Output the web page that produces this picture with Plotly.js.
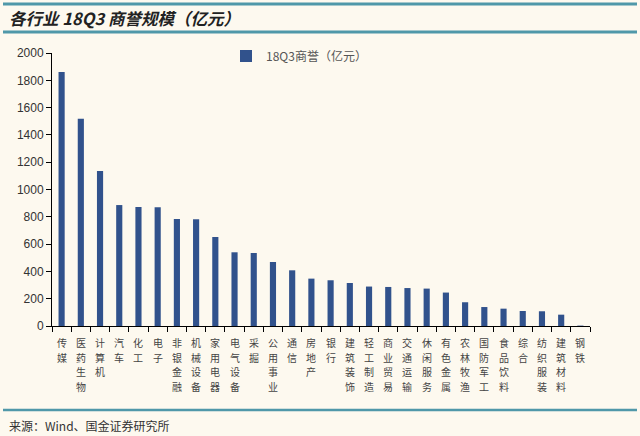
<!DOCTYPE html>
<html><head><meta charset="utf-8">
<script src="https://cdn.plot.ly/plotly-3.0.1.min.js"></script>
<style>html,body{margin:0;padding:0;background:#fdf9ef;}#chart{width:640px;height:436px;}</style>
</head><body><div id="chart"></div>
<script>
const categories = ["传媒","医药生物","计算机","汽车","化工","电子","非银金融","机械设备","家用电器","电气设备","采掘","公用事业","通信","房地产","银行","建筑装饰","轻工制造","商业贸易","交通运输","休闲服务","有色金属","农林牧渔","国防军工","食品饮料","综合","纺织服装","建筑材料","钢铁"];
const goodwill = [1861,1519,1136,886,872,870,784,782,652,540,535,469,408,347,335,315,289,286,278,274,245,174,139,127,110,108,83,3];
const seriesName = "18Q3商誉（亿元）";
const titleText = "各行业 18Q3 商誉规模（亿元）";
const sourceText = "来源：Wind、国金证券研究所";
const yTicks = [0,200,400,600,800,1000,1200,1400,1600,1800,2000];

const W=640,H=436,L=52,R=50,T=53,B=110;
const pw=W-L-R, ph=H-T-B;
const px=x=>(x-L)/pw, py=y=>(H-B-y)/ph;
const teal="#4f98a9";
const cjk="'Noto Sans CJK SC', sans-serif";
const labFont={size:10,color:"#444",family:cjk};
const step=14.6;

// vertical (stacked) category labels, one character per annotation
const catAnn=[];
categories.forEach(c=>{
  c.split("").forEach((ch,j)=>{
    catAnn.push({xref:"x",yref:"paper",x:c,y:0,xanchor:"center",yanchor:"top",yshift:-(8+j*step),
      showarrow:false,borderpad:0,text:ch,font:labFont});
  });
});

const trace={type:"bar",x:categories,y:goodwill,name:seriesName,marker:{color:"#31528c"},showlegend:true};
const layout={
  width:W,height:H,margin:{l:L,r:R,t:T,b:B},
  paper_bgcolor:"#fdf9ef",plot_bgcolor:"#fdf9ef",
  bargap:0.68,
  font:{family:cjk,color:"#333"},
  xaxis:{showticklabels:false,
    showline:true,linecolor:"#000",linewidth:1,ticks:"outside",ticklen:5,tickcolor:"#000",tickson:"boundaries",
    showgrid:false,zeroline:false,range:[-0.5,27.5]},
  yaxis:{range:[0,2000],tickvals:yTicks,showline:true,linecolor:"#000",linewidth:1,ticks:"outside",ticklen:5,tickcolor:"#000",
    tickfont:{size:12,color:"#333",family:"'Liberation Sans', sans-serif"},showgrid:false,zeroline:false},
  legend:{x:px(226),y:py(56),xanchor:"left",yanchor:"middle",bgcolor:"rgba(0,0,0,0)",font:{size:12,color:"#555",family:cjk},itemwidth:30},
  shapes:[
    {type:"line",xref:"paper",yref:"paper",x0:px(3),x1:px(637),y0:py(4),y1:py(4),line:{color:teal,width:3}},
    {type:"line",xref:"paper",yref:"paper",x0:px(3),x1:px(637),y0:py(32),y1:py(32),line:{color:teal,width:3}},
    {type:"line",xref:"paper",yref:"paper",x0:px(3),x1:px(637),y0:py(410),y1:py(410),line:{color:teal,width:2.5}}
  ],
  annotations:[
    {xref:"paper",yref:"paper",x:px(7),y:py(18),xanchor:"left",yanchor:"middle",showarrow:false,
      text:"<b><i>"+titleText+"</i></b>",font:{size:16.5,color:"#222",family:cjk}},
    {xref:"paper",yref:"paper",x:px(7),y:py(425),xanchor:"left",yanchor:"middle",showarrow:false,
      text:sourceText,font:{size:12,color:"#333",family:cjk}}
  ].concat(catAnn)
};
Plotly.newPlot("chart",[trace],layout,{displayModeBar:false,staticPlot:true});
</script></body></html>
